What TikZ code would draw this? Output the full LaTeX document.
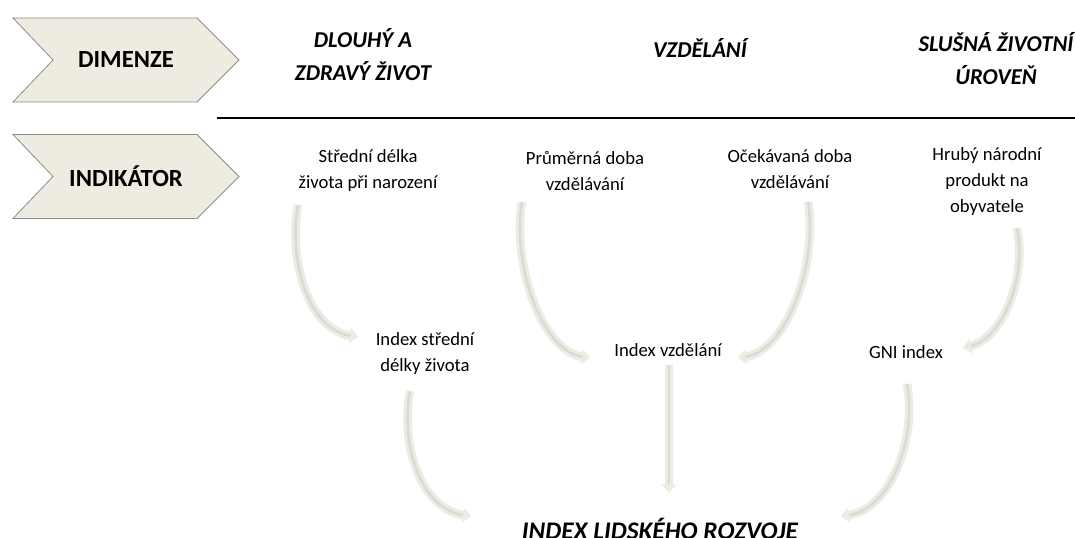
\documentclass[tikz,border=0pt]{standalone}
\usepackage{fontspec}
\setmainfont{Carlito}
\usetikzlibrary{arrows.meta}
\definecolor{bezova}{HTML}{EEECE1}
\definecolor{sedaokraj}{HTML}{8C8C8C}
\definecolor{sedasipka}{HTML}{DADADA}

\begin{document}
\begin{tikzpicture}[x=0.75pt,y=0.75pt,
  znacka/.style={draw=sedaokraj, fill=bezova, line width=0.6pt},
  popis/.style={font=\bfseries\fontsize{18.5}{22}\selectfont},
  dimen/.style={font=\bfseries\itshape\fontsize{17}{24.75}\selectfont, align=center, inner sep=0pt},
  ukaz/.style={font=\fontsize{14}{19.5}\selectfont, align=center, inner sep=0pt},
  sipka/.style={draw=bezova, line width=6.5pt, -{Triangle[length=6pt,width=11pt]},
    postaction={draw=sedasipka, line width=2pt, shorten >=6pt, -}}]
  \fill[white] (0,0) rectangle (1075,538);
  \useasboundingbox (0,0) rectangle (1075,538);

  % Šipky vlevo
  \foreach \yc/\txt/\jm in {478/DIMENZE/dimenze, 361.5/INDIKÁTOR/indikator} {
    \draw[znacka] (13,\yc+42) -- (197,\yc+42) -- (239,\yc) -- (197,\yc-42)
      -- (13,\yc-42) -- (53,\yc) -- cycle;
    \node[popis] (\jm) at (126,\yc) {\txt};
  }

  % Dimenze
  \node[dimen] (zdravi) at (363,483.5) {DLOUHÝ A\\ZDRAVÝ ŽIVOT};
  \node[dimen] (vzdelani) at (700,490) {VZDĚLÁNÍ};
  \node[dimen] (uroven) at (996,479.5) {SLUŠNÁ ŽIVOTNÍ\\ÚROVEŇ};
  \draw[line width=1.8pt] (217,420) -- (1075,420);

  % Indikátory
  \node[ukaz] (sd) at (368,367) {Střední délka\\života při narození};
  \node[ukaz] (pd) at (585,367) {Průměrná doba\\vzdělávání};
  \node[ukaz] (od) at (790,368.5) {Očekávaná doba\\vzdělávání};
  \node[ukaz] (hnp) at (987,356) {Hrubý národní\\produkt na\\obyvatele};

  % Indexy
  \node[ukaz] (isd) at (425,184.5) {Index střední\\délky života};
  \node[ukaz] (iv) at (668,188) {Index vzdělání};
  \node[ukaz] (gni) at (906,186) {GNI index};
  \node[dimen, font=\bfseries\itshape\fontsize{19}{22}\selectfont, anchor=base] (hdi) at (660,-2) {INDEX LIDSKÉHO ROZVOJE};

  % Propojení
  \draw[sipka] ([shift={(-70,-34)}]sd.center) .. controls +(-10,-55) and +(-50,8) .. ([shift={(-67,16.5)}]isd.center);
  \draw[sipka] ([shift={(-63,-31)}]pd.center) .. controls +(-10,-60) and +(-50,8) .. ([shift={(-78,-8)}]iv.center);
  \draw[sipka] ([shift={(18,-32.5)}]od.center) .. controls +(10,-60) and +(50,8) .. ([shift={(70,-8)}]iv.center);
  \draw[sipka] ([shift={(30,-46)}]hnp.center) .. controls +(10,-50) and +(40,10) .. ([shift={(57,4)}]gni.center);
  \draw[sipka] ([shift={(-15,-37.5)}]isd.center) .. controls +(-10,-55) and +(-50,8) .. ([shift={(-189,13)}]hdi.center);
  \draw[sipka] ([shift={(1,-15)}]iv.center) -- ([shift={(9,37)}]hdi.center);
  \draw[sipka] ([shift={(1,-32)}]gni.center) .. controls +(10,-55) and +(50,8) .. ([shift={(181,13)}]hdi.center);
\end{tikzpicture}
\end{document}
